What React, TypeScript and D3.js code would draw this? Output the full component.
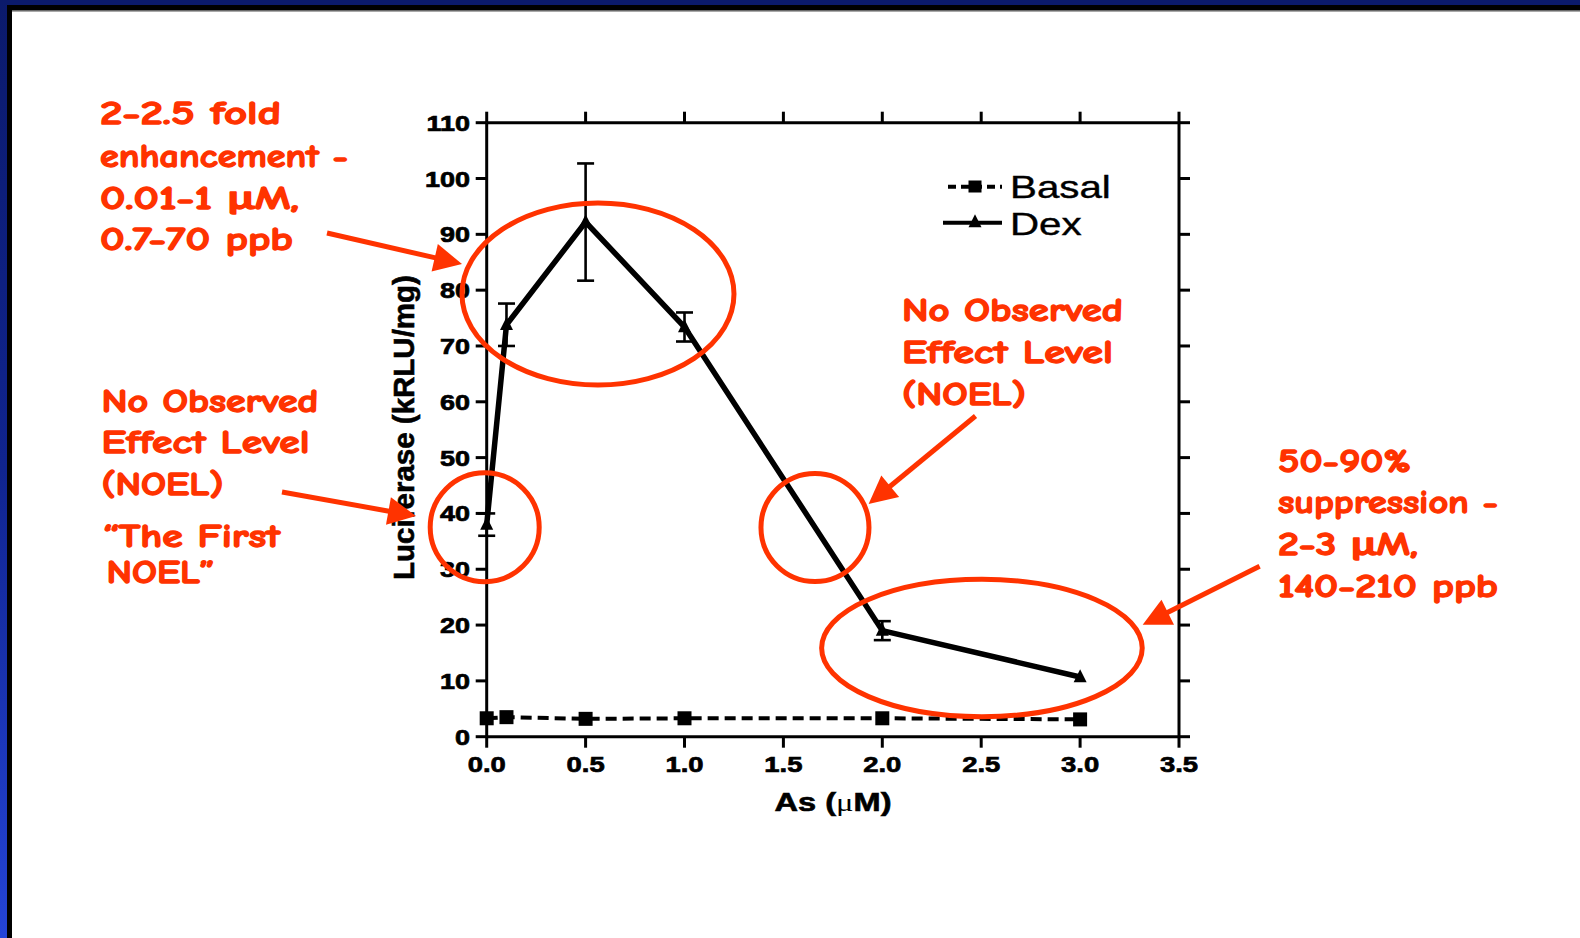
import React from 'react';
import * as d3 from 'd3';

// ---- data ----
const doses = [0, 0.1, 0.5, 1.0, 2.0, 3.0];
const basalValues = [3.3, 3.5, 3.2, 3.3, 3.3, 3.1];
const dexValues = [38, 73.8, 92.2, 73.4, 19, 10.7];
const dexErrors = [2, 3.8, 10.5, 2.6, 1.7, 0];
const xTicks = [0, 0.5, 1, 1.5, 2, 2.5, 3, 3.5];
const yTicks = [0, 10, 20, 30, 40, 50, 60, 70, 80, 90, 100, 110];
const xTitle = ['As (', 'μ', 'M)'];
const yTitle = 'Luciferase (kRLU/mg)';
const seriesNames = ['Basal', 'Dex'];

const annoBlock1 = ['2-2.5 fold', 'enhancement -', '0.01-1 μM,', '0.7-70 ppb'];
const annoBlock2 = ['No Observed', 'Effect Level', '(NOEL)', '“The First', 'NOEL”'];
const annoBlock3 = ['No Observed', 'Effect Level', '(NOEL)'];
const annoBlock4 = ['50-90%', 'suppression -', '2-3 μM,', '140-210 ppb'];

// ---- layout ----
const W = 1580, H = 938;
const RED = '#ff3300';
const ANNO_FONT = "'Comic Sans MS', 'Comic Neue', Lato, 'Open Sans', sans-serif";
const AX_FONT = "'Liberation Sans', Arial, Helvetica, sans-serif";

const blockLayout = [
  { lines: annoBlock1, xs: [100, 100, 100, 100], ys: [124, 167, 208.5, 250], ws: [181, 248, 199, 193] },
  { lines: annoBlock2, xs: [101.5, 101.5, 101.5, 103, 106.5], ys: [411.7, 453.3, 495, 546.7, 583.3], ws: [217, 208, 122, 177, 108] },
  { lines: annoBlock3, xs: [902, 902, 902], ys: [321, 363, 405], ws: [221, 211, 124] },
  { lines: annoBlock4, xs: [1278, 1278, 1278, 1278], ys: [471.7, 513.3, 555, 596.7], ws: [133, 220, 140, 220] },
];

// ellipses: centre in data units, radii in px
const ellipses = [
  { dx: 0.5626, dy: 79.31, rx: 136, ry: 91 },
  { dx: -0.0101, dy: 37.53, rx: 54.5, ry: 54.5 },
  { dx: 1.6596, dy: 37.48, rx: 54, ry: 54 },
  { dx: 2.5037, dy: 15.89, rx: 160.3, ry: 68.7 },
];

const arrows = [
  { x1: 327, y1: 233, x2: 462, y2: 264 },
  { x1: 282, y1: 492, x2: 416, y2: 516 },
  { x1: 975.5, y1: 416, x2: 868.6, y2: 504 },
  { x1: 1259.6, y1: 566.3, x2: 1142.7, y2: 624.8 },
];

function Arrow({ x1, y1, x2, y2 }: { x1: number; y1: number; x2: number; y2: number }) {
  const dx = x2 - x1, dy = y2 - y1;
  const len = Math.sqrt(dx * dx + dy * dy);
  const ux = dx / len, uy = dy / len;
  const hl = 28, hw = 14;
  const bx = x2 - ux * hl, by = y2 - uy * hl;
  const px = -uy, py = ux;
  const pts = `${x2},${y2} ${bx + px * hw},${by + py * hw} ${bx - px * hw},${by - py * hw}`;
  return (
    <g>
      <line x1={x1} y1={y1} x2={bx + ux * 2} y2={by + uy * 2} stroke={RED} strokeWidth={5} />
      <polygon points={pts} fill={RED} />
    </g>
  );
}

export default function App() {
  const x = d3.scaleLinear().domain([0, 3.5]).range([486.7, 1179]);
  const y = d3.scaleLinear().domain([0, 110]).range([736.7, 122.7]);
  const x0 = x(0), x1 = x(3.5), y0 = y(0), y1 = y(110);

  const line = d3.line<number>().x((_, i) => x(doses[i])).y((d) => y(d));
  const dexPath = line(dexValues) || '';
  const basalPath = line(basalValues) || '';

  const tri = (cx: number, cy: number, s: number) =>
    `${cx},${cy - s * 0.6} ${cx + s / 2},${cy + s * 0.4} ${cx - s / 2},${cy + s * 0.4}`;

  const tickLen = 11;
  const axisW = 3;

  return (
    <svg width={W} height={H} style={{ position: 'absolute', left: 0, top: 0, background: '#fff' }}>
      <defs>
        <linearGradient id="leftbar" x1="0" y1="0" x2="0" y2="1">
          <stop offset="0" stopColor="#0b1a6b" />
          <stop offset="0.5" stopColor="#10248f" />
          <stop offset="1" stopColor="#2444d8" />
        </linearGradient>
      </defs>
      <rect x={0} y={0} width={W} height={H} fill="#fff" />
      {/* frame */}
      <rect x={0} y={0} width={W} height={5} fill="#0b1a6b" />
      <rect x={0} y={0} width={7} height={H} fill="url(#leftbar)" />
      <rect x={7} y={5} width={W - 7} height={5.5} fill="#000" />
      <rect x={7} y={5} width={5} height={H - 5} fill="#000" />
      <rect x={12} y={10.5} width={W - 12} height={1} fill="#555" />

      {/* axes */}
      <g stroke="#000" strokeWidth={axisW} fill="none">
        <line x1={x0} y1={y0} x2={x1} y2={y0} />
        <line x1={x0} y1={y1} x2={x1} y2={y1} />
        <line x1={x0} y1={y0} x2={x0} y2={y1} />
        <line x1={x1} y1={y0} x2={x1} y2={y1} />
        {xTicks.map((t) => (
          <g key={'xt' + t}>
            <line x1={x(t)} x2={x(t)} y1={y0} y2={y0 + tickLen} />
            <line x1={x(t)} x2={x(t)} y1={y1} y2={y1 - tickLen} />
          </g>
        ))}
        {yTicks.map((t) => (
          <g key={'yt' + t}>
            <line x1={x0} x2={x0 - tickLen} y1={y(t)} y2={y(t)} />
            <line x1={x1} x2={x1 + tickLen} y1={y(t)} y2={y(t)} />
          </g>
        ))}
      </g>
      {/* tick labels */}
      <g fontFamily={AX_FONT} fontWeight="bold" fontSize={22.5} fill="#000" stroke="#000" strokeWidth={0.7}>
        {xTicks.map((t) => (
          <text key={'xl' + t} textAnchor="middle" transform={`translate(${x(t)},772) scale(1.22,1)`}>
            {t.toFixed(1)}
          </text>
        ))}
        {yTicks.map((t) => (
          <text key={'yl' + t} textAnchor="end" transform={`translate(470,${y(t) + 8}) scale(1.2,1)`}>
            {t}
          </text>
        ))}
      </g>
      {/* axis titles */}
      <text x={833} y={811} textAnchor="middle" fontFamily={AX_FONT} fontWeight="bold" fontSize={25}
        stroke="#000" strokeWidth={0.6} textLength={117} lengthAdjust="spacingAndGlyphs">
        {xTitle[0]}
        <tspan fontWeight="normal" strokeWidth={0} fontFamily="'Liberation Serif', 'Times New Roman', serif">{xTitle[1]}</tspan>
        {xTitle[2]}
      </text>
      <text transform="translate(413.5,427.5) rotate(-90)" textAnchor="middle" fontFamily={AX_FONT}
        fontWeight="bold" fontSize={29.5} stroke="#000" strokeWidth={0.6}>
        {yTitle}
      </text>

      {/* basal series */}
      <path d={basalPath} fill="none" stroke="#000" strokeWidth={4} strokeDasharray="11,6" />
      {basalValues.map((v, i) => (
        <rect key={'bs' + i} x={x(doses[i]) - 7} y={y(v) - 7} width={14} height={14} fill="#000" />
      ))}

      {/* dex series */}
      <g stroke="#000" strokeWidth={2.6}>
        {dexValues.map((v, i) =>
          dexErrors[i] > 0 ? (
            <g key={'eb' + i}>
              <line x1={x(doses[i])} x2={x(doses[i])} y1={y(v + dexErrors[i])} y2={y(v - dexErrors[i])} />
              <line x1={x(doses[i]) - 8.5} x2={x(doses[i]) + 8.5} y1={y(v + dexErrors[i])} y2={y(v + dexErrors[i])} />
              <line x1={x(doses[i]) - 8.5} x2={x(doses[i]) + 8.5} y1={y(v - dexErrors[i])} y2={y(v - dexErrors[i])} />
            </g>
          ) : null
        )}
      </g>
      <path d={dexPath} fill="none" stroke="#000" strokeWidth={5.5} strokeLinejoin="miter" />
      {dexValues.map((v, i) => (
        <polygon key={'dm' + i} points={tri(x(doses[i]), y(v), 13)} fill="#000" />
      ))}

      {/* legend */}
      <g>
        <line x1={948} x2={1002} y1={186.7} y2={186.7} stroke="#000" strokeWidth={4} strokeDasharray="8,5" />
        <rect x={968.5} y={180.5} width={13} height={12} fill="#000" />
        <line x1={943} x2={1002} y1={222.7} y2={222.7} stroke="#000" strokeWidth={4} />
        <polygon points={tri(975, 222, 13)} fill="#000" />
        <text transform="translate(1010,198.3) scale(1.26,1)" fontFamily={AX_FONT} fontSize={32} stroke="#000" strokeWidth={0.4}>{seriesNames[0]}</text>
        <text transform="translate(1010,235) scale(1.26,1)" fontFamily={AX_FONT} fontSize={32} stroke="#000" strokeWidth={0.4}>{seriesNames[1]}</text>
      </g>

      {/* annotations */}
      {ellipses.map((e, i) => (
        <ellipse key={'el' + i} cx={x(e.dx)} cy={y(e.dy)} rx={e.rx} ry={e.ry} fill="none" stroke={RED} strokeWidth={5} />
      ))}
      {arrows.map((a, i) => (
        <Arrow key={'ar' + i} {...a} />
      ))}
      <g fontFamily={ANNO_FONT} fontWeight="bold" fontSize={32} fill={RED} stroke={RED} strokeWidth={1.3} strokeLinejoin="round">
        {blockLayout.map((b, bi) =>
          b.lines.map((t, li) => (
            <text key={`an${bi}-${li}`} x={b.xs[li]} y={b.ys[li]} textLength={b.ws[li]} lengthAdjust="spacingAndGlyphs">
              {t}
            </text>
          ))
        )}
      </g>
    </svg>
  );
}
